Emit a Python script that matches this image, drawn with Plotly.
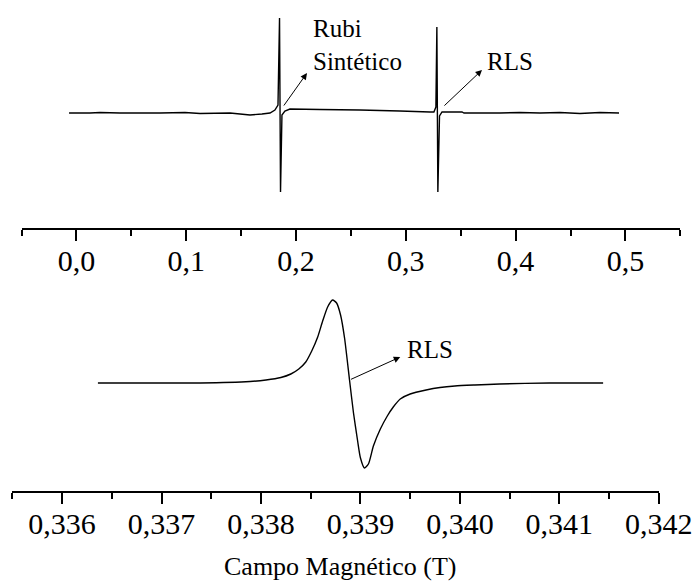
import plotly.graph_objects as go

# ---- Top panel: full sweep (field in T, intensity in arbitrary units) ----
top_field = [-0.0067, 0.0124, 0.0215, 0.0397, 0.0761, 0.0989, 0.1126, 0.1399, 0.149, 0.1581,
             0.169, 0.1763, 0.1808, 0.1836, 0.1850, 0.1859, 0.1872, 0.1899, 0.1945, 0.2218,
             0.2582, 0.2946, 0.322, 0.3256, 0.3274, 0.3283, 0.3292, 0.3307, 0.333, 0.3403,
             0.3512, 0.353, 0.3858, 0.404, 0.4222, 0.4404, 0.4586, 0.4768, 0.4942]
top_signal = [0, 0, 0.5, 0, 0, 0.5, -0.5, 0, -1, -2,
              -1, 0, 3, 8, 95, -79, -2, 2, 4, 3.5,
              3, 2, 1, 1, 6, 86, -79, -3, 1, 1,
              1, 0, 0, 0.5, 0, 0.5, -0.5, 0.5, 0]

# ---- Bottom panel: RLS line detail ----
bot_field = [0.33636, 0.33689, 0.33739, 0.33789, 0.33805, 0.33820, 0.33830, 0.33838, 0.33845,
             0.33851, 0.33857, 0.33862, 0.33867, 0.33872, 0.33876, 0.33880, 0.33884, 0.33889,
             0.33893, 0.33897, 0.33900, 0.33904, 0.33908, 0.33913, 0.33920, 0.33927, 0.33933,
             0.33940, 0.33950, 0.33966, 0.33980, 0.33995, 0.34015, 0.34040, 0.34090, 0.34144]
bot_signal = [0, 0, 0, 1.5, 3, 5.5, 9, 14, 21,
              32, 46, 62, 76, 83, 80, 68, 45, 3,
              -30, -57, -75, -85, -81, -63, -46, -33, -24,
              -16, -11, -7, -4.5, -3, -2, -1, 0, 0]

top_ticks = [0.0, 0.1, 0.2, 0.3, 0.4, 0.5]
bot_ticks = [0.336, 0.337, 0.338, 0.339, 0.340, 0.341, 0.342]

FONT = "Liberation Serif"
W, H = 693, 584

def py(px):
    return (H - px) / H

fig = go.Figure()
fig.add_trace(go.Scatter(x=top_field, y=top_signal, mode="lines",
                         line=dict(color="black", width=1.4, simplify=False), xaxis="x", yaxis="y",
                         showlegend=False, hoverinfo="skip"))
fig.add_trace(go.Scatter(x=bot_field, y=bot_signal, mode="lines",
                         line=dict(color="black", width=1.4, shape="spline", smoothing=0.6,
                                   simplify=False),
                         xaxis="x2", yaxis="y2", showlegend=False, hoverinfo="skip"))

axis_common = dict(showline=True, linecolor="black", linewidth=1.5, ticks="outside",
                   tickcolor="black", tickwidth=1.5, ticklen=11, showgrid=False,
                   zeroline=False, automargin=False,
                   tickfont=dict(family=FONT, size=30, color="black"),
                   ticklabelstandoff=-6)

fig.update_layout(
    width=W, height=H, margin=dict(l=0, r=0, t=0, b=0, autoexpand=False),
    paper_bgcolor="white", plot_bgcolor="white", separators=",.",
    font=dict(family=FONT, color="black"),
    xaxis=dict(domain=[21.5 / W, 680.3 / W], range=[-0.05, 0.55], anchor="y",
               tickvals=top_ticks, tickformat=".1f",
               minor=dict(dtick=0.05, tick0=-0.05, ticks="outside", ticklen=6,
                          tickcolor="black", tickwidth=1.5),
               **axis_common),
    yaxis=dict(domain=[py(228), 1.0], range=[-115, 113], visible=False, anchor="x",
               automargin=False),
    xaxis2=dict(domain=[12.4 / W, 658.8 / W], range=[0.3355, 0.342], anchor="y2",
                tickvals=bot_ticks, tickformat=".3f",
                minor=dict(dtick=0.0005, tick0=0.3355, ticks="outside", ticklen=6,
                           tickcolor="black", tickwidth=1.5),
                **axis_common),
    yaxis2=dict(domain=[py(491), py(285)], range=[-108, 98], visible=False, anchor="x2",
                automargin=False),
)

arrow = dict(showarrow=True, arrowhead=2, arrowsize=1.3, arrowwidth=1, arrowcolor="black",
             text="")
fig.add_annotation(xref="x", yref="y", axref="x", ayref="y", x=0.21, y=40, ax=0.188, ay=6, **arrow)
fig.add_annotation(xref="x", yref="y", axref="x", ayref="y", x=0.3694, y=43, ax=0.3338, ay=6, **arrow)
fig.add_annotation(xref="x2", yref="y2", axref="x2", ayref="y2", x=0.3394, y=26, ax=0.33889, ay=3, **arrow)

lab_font = dict(family=FONT, size=25, color="black")
fig.add_annotation(xref="paper", yref="paper", x=311 / W, y=py(45), xanchor="left", yanchor="middle",
                   align="left", text="Rubi<br>Sintético", showarrow=False, font=lab_font)
fig.add_annotation(xref="paper", yref="paper", x=485 / W, y=py(62), xanchor="left", yanchor="middle",
                   text="RLS", showarrow=False, font=lab_font)
fig.add_annotation(xref="paper", yref="paper", x=405 / W, y=py(349), xanchor="left", yanchor="middle",
                   text="RLS", showarrow=False, font=lab_font)
fig.add_annotation(xref="paper", yref="paper", x=340 / W, y=py(566), xanchor="center", yanchor="middle",
                   text="Campo Magnético (T)", showarrow=False,
                   font=dict(family=FONT, size=26, color="black"))

fig.write_html("out.html")
